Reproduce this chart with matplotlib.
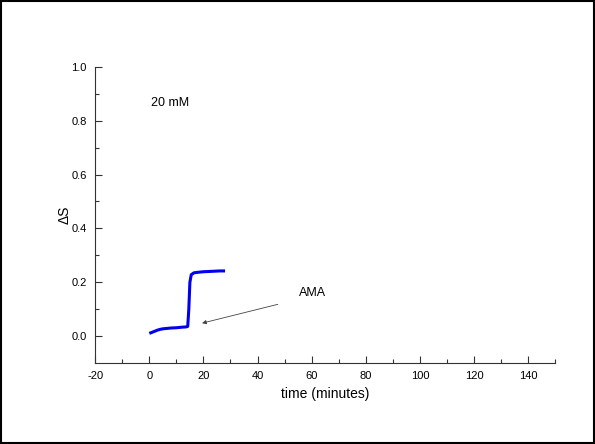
import numpy as np
import matplotlib.pyplot as plt
from matplotlib.patches import Rectangle

plt.rcParams['font.family'] = ['Liberation Sans', 'DejaVu Sans']
plt.rcParams['axes.unicode_minus'] = False

# trace (time in minutes, delta S)
time_min = [0, 1, 2, 3, 4, 5, 6, 8, 10, 12, 13.5, 14.2, 14.6, 15.0, 15.5, 16.5, 18, 20, 22, 24, 26, 28]
delta_s = [0.010, 0.014, 0.018, 0.022, 0.025, 0.027, 0.028, 0.030, 0.031, 0.033, 0.034, 0.036, 0.10, 0.20, 0.228, 0.235, 0.237, 0.239, 0.240, 0.241, 0.242, 0.242]

x_ticks = np.arange(-20, 141, 20)
y_ticks = [0.0, 0.2, 0.4, 0.6, 0.8, 1.0]

fig = plt.figure(figsize=(5.95, 4.44), dpi=100)
ax = fig.add_axes([0.16, 0.1824, 0.773, 0.667])

ax.plot(time_min, delta_s, color='#0000ee', lw=2.2, solid_capstyle='butt')

ax.set_xlim(-20, 150)
ax.set_ylim(-0.1, 1.0)
ax.set_xticks(x_ticks)
ax.set_xticks(np.arange(-10, 151, 20), minor=True)
ax.set_yticks(y_ticks)
ax.set_yticks(np.arange(0.1, 1.0, 0.2), minor=True)
ax.set_yticklabels([f'{v:.1f}' for v in y_ticks])

for s in ['top', 'right']:
    ax.spines[s].set_visible(False)
for s in ['left', 'bottom']:
    ax.spines[s].set_color('#333333')
ax.tick_params(direction='in', length=5, width=0.8, labelsize=8, pad=6, color='#333333')
ax.tick_params(which='minor', direction='in', length=3, width=0.8, color='#333333')

ax.set_xlabel('time (minutes)', fontsize=10)
ax.set_ylabel('ΔS', fontsize=10, labelpad=0)

ax.text(0.7, 0.867, '20 mM', fontsize=9, va='center')
ax.annotate('AMA', xy=(19.5, 0.048), xytext=(55.5, 0.16), fontsize=9,
            va='center', ha='left')
ax.annotate('', xy=(19.5, 0.048), xytext=(47.5, 0.118),
            arrowprops=dict(arrowstyle='-|>', color='#444444', lw=0.6,
                            mutation_scale=6, shrinkA=0, shrinkB=0))

fig.patches.append(Rectangle((0.002, 0.002), 0.996, 0.996, transform=fig.transFigure,
                             fill=False, edgecolor='black', lw=1.5))

fig.savefig('out.png', dpi=100)
